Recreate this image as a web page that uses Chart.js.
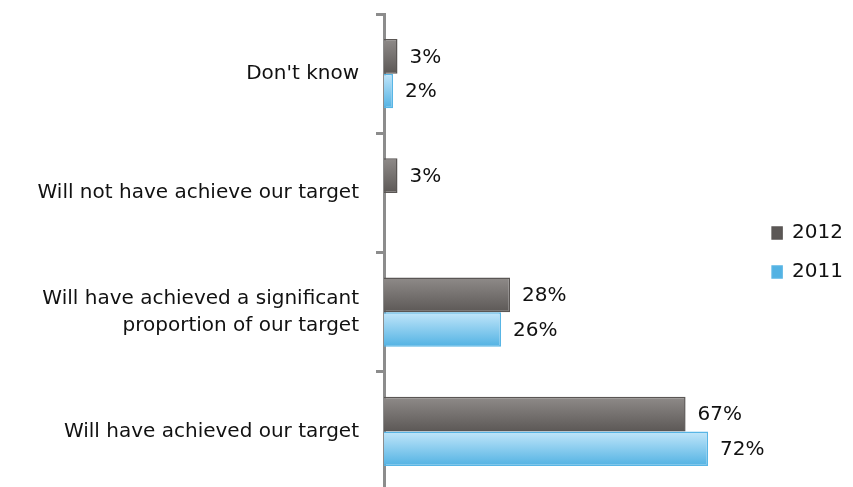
<!DOCTYPE html>
<html>
<head>
<meta charset="utf-8">
<script src="https://cdn.jsdelivr.net/npm/chart.js@4.4.1/dist/chart.umd.min.js"></script>
<style>
html, body { margin: 0; padding: 0; background: #fff; overflow: hidden; }
</style>
</head>
<body>
<canvas id="myChart" width="853" height="495"></canvas>
<script>
// categories top to bottom
const categories = [
	"Don't know",
	"Will not have achieve our target",
	["Will have achieved a significant", "proportion of our target"],
	"Will have achieved our target"
];
const years = ['2012', '2011'];
const values2012 = [3, 3, 28, 67];
const values2011 = [2, null, 26, 72];

const catPct = 0.58;

// vertical gradient per bar, worked out from the category scale
const barFill = (top, bottom, solid, side) => ctx => {
	const chart = ctx.chart;
	const yScale = chart.scales.y;
	if (ctx.dataIndex === undefined || !yScale || !chart.chartArea) return solid;
	const center = yScale.getPixelForValue(ctx.dataIndex);
	const h = yScale.height / categories.length * catPct / 2;
	const y0 = side === 0 ? center - h : center;
	const g = chart.ctx.createLinearGradient(0, y0, 0, y0 + h);
	g.addColorStop(0, top);
	g.addColorStop(1, bottom);
	return g;
};

const valueLabels = {
	id: 'valueLabels',
	afterDatasetsDraw(chart) {
		const c = chart.ctx;
		c.save();
		c.font = '20px "DejaVu Sans"';
		c.fillStyle = '#111';
		c.textBaseline = 'middle';
		chart.data.datasets.forEach((ds, i) => {
			chart.getDatasetMeta(i).data.forEach((bar, j) => {
				const v = ds.data[j];
				if (v == null) return;
				c.fillText(v + '%', bar.x + 12, bar.y + 1);
			});
		});
		c.restore();
	}
};

const ctx = document.getElementById('myChart');
const myChart = new Chart(ctx, {
	type: 'bar',
	data: {
		labels: categories,
		datasets: [{
			label: years[0],
			data: values2012,
			backgroundColor: barFill('#8f8b89', '#5c5856', '#706c6a', 0),
			borderColor: '#5a5654',
			borderWidth: 1.5,
			borderSkipped: 'left'
		}, {
			label: years[1],
			data: values2011,
			backgroundColor: barFill('#c2e6fa', '#52b2e3', '#7cc8ee', 1),
			borderColor: '#58b5e5',
			borderWidth: 1.5,
			borderSkipped: 'left'
		}]
	},
	options: {
		indexAxis: 'y',
		responsive: false,
		animation: false,
		events: [],
		categoryPercentage: catPct,
		barPercentage: 1,
		layout: { padding: { top: 14, bottom: 4, left: 0, right: 0 } },
		scales: {
			x: { display: false, min: 0, max: 82 },
			y: {
				afterFit(scale) {
					scale.width = 384;
					scale.paddingTop = 0;
					scale.paddingBottom = 0;
				},
				grid: { offset: true, drawOnChartArea: false, drawTicks: true, tickLength: 8, color: '#8c8c8c', lineWidth: 3 },
				border: { display: true, color: '#8c8c8c', width: 3 },
				ticks: { color: '#111', padding: 17, font: { family: 'DejaVu Sans', size: 20, lineHeight: 1.35 } }
			}
		},
		plugins: {
			tooltip: { enabled: false },
			legend: {
				position: 'right',
				labels: {
					boxWidth: 10,
					boxHeight: 12,
					padding: 19,
					color: '#111',
					font: { family: 'DejaVu Sans', size: 20 }
				}
			}
		}
	},
	plugins: [valueLabels]
});
</script>
</body>
</html>
